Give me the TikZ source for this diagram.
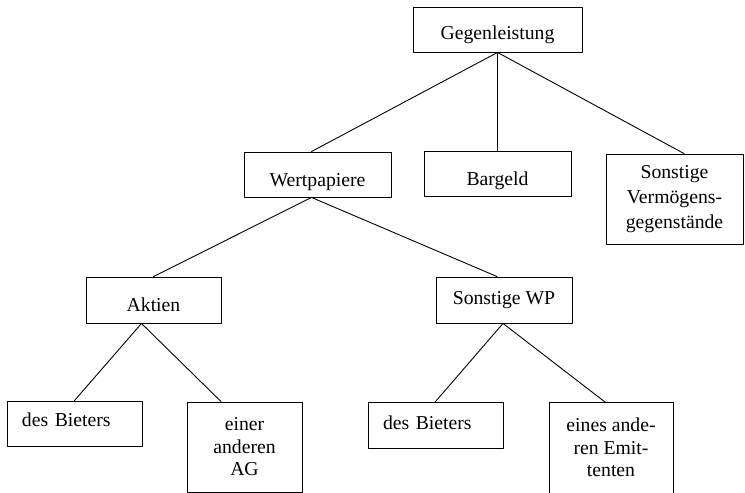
\documentclass[tikz,border=0pt]{standalone}
\usepackage{fontspec}
\setmainfont{Liberation Serif}
\begin{document}
\begin{tikzpicture}[x=1bp,y=-1bp, line join=round, line cap=round,
	font=\fontsize{19.7bp}{22.5bp}\selectfont,
	box/.style={draw,line width=0.9bp,inner sep=0pt,align=center,minimum height=45bp},
	leftbox/.style={box,inner xsep=15bp,text width=105bp,align=left},
	textpos/.style 2 args={text height=#1bp,text depth=#2bp}]
	\useasboundingbox (0,0) rectangle (745,493);
	\path
	(497.5,29.5) node[box,minimum width=169bp,textpos={25.5}{4.5}] (G) {Gegenleistung}
	(317.5,174.5) node[box,minimum width=147bp,textpos={27}{3}] (W) {Wertpapiere}
	(497.5,174) node[box,minimum width=147bp,textpos={27}{3}] (B) {Bargeld}
	(674.5,199) node[box,minimum width=137bp,minimum height=90bp,font=\fontsize{19.7bp}{25bp}\selectfont] (V) {Sonstige\\Verm\"ogens-\\gegenst\"ande}
	(153.5,300) node[box,minimum width=135bp,minimum height=46bp,textpos={26.7}{3.3}] (A) {Aktien}
	(504,300) node[box,minimum width=136bp,minimum height=46bp,textpos={19.3}{10.7}] (S) {Sonstige WP}
	(74.5,423.5) node[leftbox,textpos={18.2}{11.8}] (A_1) {des Bieters}
	(244.5,447) node[box,minimum width=115bp,minimum height=90bp] (A_2) {einer\\anderen\\AG}
	(435.5,425) node[leftbox,minimum height=46bp,textpos={19.3}{10.7}] (S_1) {des Bieters}
	(611,402) node[box,anchor=north,minimum width=124bp,minimum height=119bp] (S_2) {eines ande-\\ren Emit-\\tenten\\\strut}
	;
	\foreach \u/\v/\a/\b in {G/W/0/-6,G/B/0/0,G/V/0/9.5,W/A/-6/0,W/S/-6/-7,A/A_1/-12/0,A/A_2/-12/-23.5,S/S_1/-1/0,S/S_2/-1/-6}
	\draw[line width=0.9bp] ([xshift=\a bp]\u.south)--([xshift=\b bp]\v.north);
\end{tikzpicture}
\end{document}
